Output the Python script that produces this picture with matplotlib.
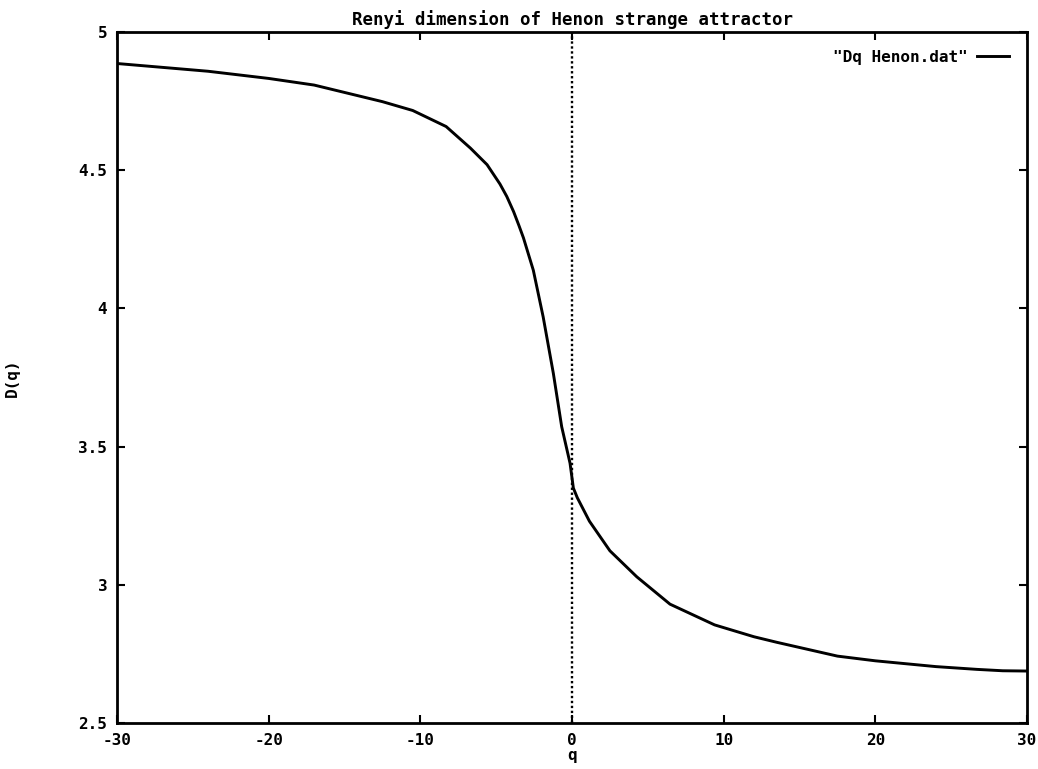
import matplotlib
matplotlib.use("Agg")
import matplotlib.pyplot as plt

q = [-30, -27, -24, -20, -17, -14, -12.5, -10.5, -8.3, -6.7, -5.6, -4.75,
     -4.3, -3.85, -3.5, -3.2, -2.55, -1.9, -1.23, -0.68, -0.13, 0.09, 0.35,
     1.15, 2.5, 4.27, 6.46, 9.4, 12.0, 13.5, 17.5, 20, 24, 26.7, 28.4, 30]
Dq = [4.886, 4.872, 4.858, 4.832, 4.808, 4.768, 4.748, 4.716, 4.658, 4.58,
      4.52, 4.45, 4.405, 4.35, 4.30, 4.255, 4.138, 3.969, 3.765, 3.572,
      3.44, 3.35, 3.315, 3.23, 3.123, 3.029, 2.93, 2.855, 2.812, 2.792, 2.742,
      2.725, 2.704, 2.694, 2.689, 2.688]

xticks = [-30, -20, -10, 0, 10, 20, 30]
xticklabels = ["-30", "-20", "-10", "0", "10", "20", "30"]
yticks = [2.5, 3, 3.5, 4, 4.5, 5]
yticklabels = ["2.5", "3", "3.5", "4", "4.5", "5"]

font = dict(family="DejaVu Sans Mono", weight="bold", size=11.5)

fig = plt.figure(figsize=(10.38, 7.69), dpi=100)
ax = fig.add_axes([117/1038, 1 - 723/769, (1027-117)/1038, (723-32)/769])

ax.plot(q, Dq, color="black", lw=2.1, label='"Dq Henon.dat"')
ax.axvline(0, color="black", lw=1.7, ls=(0, (1, 1.1)))

ax.set_xlim(-30, 30)
ax.set_ylim(2.5, 5)
ax.set_xticks(xticks)
ax.set_xticklabels(xticklabels, **font)
ax.set_yticks(yticks)
ax.set_yticklabels(yticklabels, **font)
ax.tick_params(direction="in", length=6, width=1.5, top=True, right=True, pad=7)
for s in ax.spines.values():
    s.set_linewidth(2)
    s.set_color("black")

ax.set_title("Renyi dimension of Henon strange attractor", pad=5,
             family="DejaVu Sans Mono", weight="bold", size=12.5)
ax.set_xlabel("q", labelpad=0, **font)
ax.set_ylabel("D(q)", labelpad=42, **font)

leg = ax.legend(loc="upper right", frameon=False,
                prop=dict(family="DejaVu Sans Mono", weight="bold", size=11.5),
                handlelength=2.0, markerfirst=False, borderaxespad=0.7,
                handletextpad=0.6)

fig.savefig("out.png", dpi=100)
